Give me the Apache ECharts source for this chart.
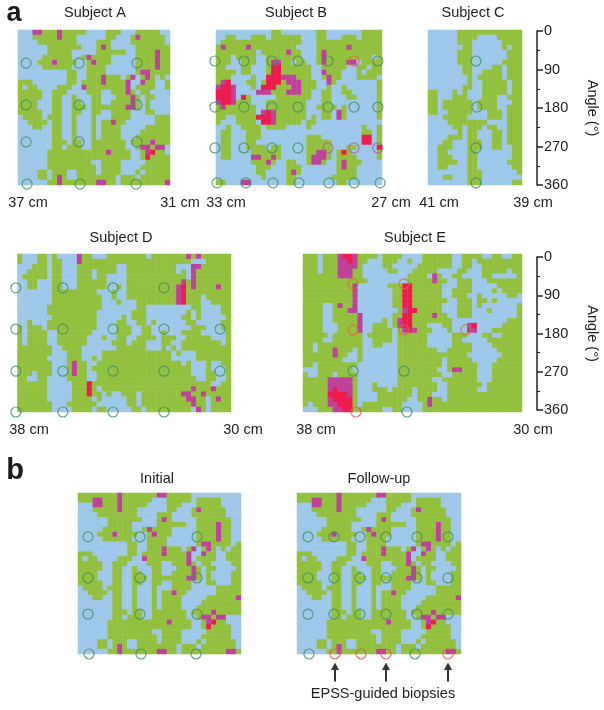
<!DOCTYPE html>
<html><head><meta charset="utf-8">
<style>html,body{margin:0;padding:0;background:#fff}#c{width:604px;height:710px}</style>
<script src="https://cdn.jsdelivr.net/npm/echarts@6/dist/echarts.min.js"></script>
</head><body><div id="c"></div>
<script>
// Map classes: . low (blue), g normal (green), m raised (magenta), r high (red)
var initialRows = [
"ggggggggmgggggggmmggggg..........",
"gggmmgggmgggggg...ggggg.ggggg....",
"...mmgggmggggg....ggg...ggggg....",
"...gggggmggg......gg...gmggggg...",
"....gggggggg....ggg....ggggggg...",
"......ggggggg...gmg.....ggggggg..",
"......ggggg.....gggggg..ggggmgg..",
".....gggggg..gmgggg.....ggggmgg..",
"....gggmgggg..gmggg.....ggggmgg..",
".....gggggg...gggg......ggggmgg..",
"..........gg..gggg......gmmgggg.g",
"..........gg..gggmggg.gm.gmg.g.gg",
"ggg.......gg.ggggmggggm..mgg..ggg",
"g.gg....ggg..mggggggggm.gggg..ggg",
"ggggg..ggg....ggg..gggmg.gg....gg",
"ggggg..gg..g...gg...gggmg.gg....g",
"gggg...gg..gg..gg..ggggmg.g....gg",
"gggg...gg..ggg.gggggggmmg.g....gg",
"ggggg..gg..gg..gg..gggg...gg...gg",
".gggg.ggg..g...g...gggg.....ggggg",
"..gggg.gg..g...g.ggmgg......ggggg",
"...gg..gg..g...g.gggg.....ggggggm",
".......gg..g...g.gggg....gggggggg",
".......gg..g...g.gggg...ggggggggg",
".......ggg.gg..ggggggg.ggggmggggg",
".......gg.ggg..ggggggg..gmmgmm...",
"......ggggggggggggmgggg..gmrgg...",
"......ggggggggggggggggg..grgggg..",
"......ggggggggg..gggg.....ggggg..",
"......gggggggggg.gggg....gggggg..",
"....gg.ggg..gggg.gggg...g.gggggg.",
"....gg.gmg..gggggggg.ggg.ggggggg.",
"......ggmgggggggmmgg.gggggggggmmg"
];
var followUpRows = initialRows;
var subjectARows = initialRows.slice(2).map(function(r){return r.slice(0,31);});
var subjectBRows = [
"...........gg.......gg.......gggg",
"..gg...ggg.gggggg...gg...ggg.gggg",
".gggggggggggggggg...ggggggggggggg",
"gmggggmggggggggg....ggggggmgggggg",
"gggggggg.gggggmgg...gmggggggggggg",
"ggg.gggg..ggggggg...gmggggggggg.g",
"ggg..ggg..gmmgg.gg..gmggggmm.gggg",
"gg...gg...grrgggggg..ggggg..gg.gg",
"gggg.gg...grrgggggg..mggg...g.ggg",
"ggg....g..rrrmmmggg..gmgg...gggg.",
"gmr...gg.grrrgmmmggg..mg........g",
"mrrm...g.rrrgggmmggg..g..g......g",
"rrrm....mmmgggmmmgg..gg..gg.....g",
"rrrm.rg.....ggggggg..gg...gg....g",
"mrrmggg...gggggggg...gg.........g",
"gmgggggg..gggggggg..gggg.g......g",
"gggggggg.mrmgggggg...gg.mg......g",
"gg..ggggrrrmgggggg.g.gg.mg......g",
"g...gggg.rrmggggg.gg.............",
"..g..gggg.gggg....g..........g..g",
".gg...ggg....................gg.g",
".gg...ggg.........ggg........rr.g",
".gg...gg..........ggggg......rr.g",
".gg...gggg.gg.....ggggg...gg....r",
".gg....gggggg.....ggmmg.grg.....g",
".gg....mmggmg.....gmmmg.gggg....g",
".......gggmg..gg..gmmg..gmggg....",
"........ggg...ggg.......gmgg.....",
"........gg....gmg.......gggg.....",
".........g....gg.......ggggg.....",
"gg...mm.......gg........gg......."
];
var subjectCRows = [
"......ggggggggggggg",
"......gggg....ggggg",
"......ggg......gggg",
".......gg......g.gg",
"......ggg.......ggg",
"......ggg.......ggg",
"......ggg......gggg",
".......gg....gg.ggg",
".......gg..gggg.ggg",
"........g.ggggg.ggg",
"........g..ggggg.gg",
".......gg..ggggg.gg",
"gg...g.g...ggggg.gg",
"gg...ggg...ggg..ggg",
"gg.gggggg.gggg...gg",
"gg.gggggg.gggg..ggg",
"gg..ggggg...ggg.ggg",
"...ggggg....ggg.ggg",
"....gggggggg....ggg",
".....gg.ggg.gg..ggg",
"......g.gg...gg.ggg",
"....ggg.gg...gg.ggg",
"...gg...ggg..gg.ggg",
"..ggg...ggg..gg..gg",
"..gg....gg.......gg",
"..ggg...gg.......gg",
"..gggg..gg......ggg",
"..gg....gg.......gg",
"........ggg.......g",
"...gg...ggg........",
"........ggg......gg"
];
var subjectDRows = [
"g...gg.g....mgg...gggggggg.gggggggmgmgggggg",
"g...gg.gg...mgggggggggggggggggggggg...ggggg",
"...ggg.gg...gggggggg..gggggggggg...mmgggggg",
"..gggg.gg...ggg.gggg..gggggggggg.g.mggggggg",
".ggggg.gg...ggg.gg....gggggggggggg.mggggggg",
"..gg...gg...gggggg....gggggggggggmgmggggggg",
"..gg...gg...gggggg..g.ggggggggggmrgmggggmgg",
".......ggggggggg...g..ggggggggggmrggggggggg",
".......gggggggggg..g..ggggggggggmrggg.ggggg",
".......gggggggggg...g...ggggggggmrggg..gggg",
"......ggggggggggg.......gg.........gg....gg",
"......gggggggggg.......ggg........g.g....gg",
".......ggggggggg.....g.ggg.......gg.g.....g",
"..g...gggggggggg....gg..gg.g......gg.....gg",
"g.ggg.gggggggggg....ggg..gg........ggg...gg",
"g.gggg..ggggggg.....ggg..gg..g...gggg.....g",
"g.gggg..gggggg...g..gg..gggg.ggg..ggggg...g",
"g.gggg..gggggg.....ggg.ggg...gg..gggggggg.g",
"ggggggg..gggg.......gggggg...g.g.gggggggggg",
"ggggggg...ggg....gggggggggggggg.g...ggggggg",
"gggggg....ggg..g.gggggggggggggg.....ggggggg",
"ggggggg...gmgg..ggggggggggggggggg.g...g..gg",
"ggggggg...gmgg.gggggggggggggggggggg...g...g",
"ggg.ggg...gmgg..ggggggggggggggggggg...gg..g",
"gg..gg....gggg..gggggggggggggggggggg..gg..g",
"gggggg.....gggrgggggggggggggggggggggggg..gg",
"gggggg.....gggrg.ggggggggggggggggggmgggmggg",
"gggggg.....gggrgg.g..ggg.ggggggggmmggmggggg",
"gggggg.....gggg.g.....gg.gggggggggmmgg.gmgg",
"ggggggg...gggggg......gg.ggggggggggmgg.gggg",
"ggggggg....gggg.gg.....gg.ggggggggg.mg.gggg"
];
var subjectERows = [
"ggg.gggmrrmgggg.gggg....gggggg..gggg..gg..gg",
"ggg.gggmmrmgg...ggg..g..gggggg..gg.ggggggggg",
"ggg.gggmmmmg....gg.....ggggggg..gg..gggggggg",
"ggg.gggmmmgg.....gg...ggggg....gg...ggggg.gg",
"gggggggmmmgg.........gggg.mg..gg....gg.....g",
"ggggggggggggg........gggggmgg..ggg...ggggggg",
"ggggggggggm......gggrrgggggg...ggg.....ggggg",
"ggggggggggm.......ggrrgggggg..gggg....g.gggg",
"ggggggggggm.......ggrrgggggg..ggg..g.....gg.",
"ggggggggggm.......ggrrggggggg..ggg.gg.g.....",
"gggg..gmggm.......ggrrgggggg...ggg.g.......g",
"gggg..gggmm........gmrrggggg...ggg...g.....g",
"gggg..gggggm......ggrrggggmgg..ggg.........g",
"gggg..gggggm....g.gmrrgggggggg...........ggg",
"gggg...ggggm..ggg.gmrrggg...gg...mr.....gggg",
"gggg...ggggm..gggg.gmrmggg...g...mm...gggggg",
"ggggg.gggggg.ggggg.gggggg.....ggg...gg..gggg",
"gggg..gggggg..gggg.gggggg.....gg.....ggggggg",
"gg.ggggggggg..gg...gggggg.....gggg....gggggg",
"gg.gggmggg.g.......gggggggg..ggggg.....ggggg",
"ggggggmgg..g.......gggggggggggggg.......gggg",
"gggggggg...g.......ggggggggg.ggggg.....ggggg",
"gg.gggggggg........ggggggggg.gggggg...gggggg",
"...ggggggg.........gggggggg..gmmggg...gggggg",
"g..ggg.gggg........ggggggggg..ggggg...gggggg",
"gggggmmmmmg........ggggggg..ggggggg...gggggg",
"gggggmmmmmg...g....gggggggg..ggggggg.ggggggg",
"gggggmrmmmg...ggg.gggg.gggg..gggggg..ggggggg",
"gggggrrrrmg....ggggggg.ggg...ggggggggggggggg",
"gggggmrrrrg....gggggg..ggmgg.ggggggggggggggg",
"g.gggmmrrrg.gggggggg....gmgggggggggggggggggg",
"...gggmmrrgggggg..gg....gggggggggggggggggggg"
];
var colorClasses = {".":"#9DC8EA","g":"#92C13E","m":"#C0409C","r":"#EE1C4E"};
var circleGreen="#3f8f5c", circleOrange="#e0683a", circlePurple="#a85fa8", circleRed="#e6504f";
var subjectACircles=[[36.68,77],[34.59,77],[32.30,77],[36.68,174],[34.59,174],[32.30,174],[36.68,260],[34.59,260],[32.30,260],[36.64,358],[34.55,358],[32.34,358]];
var subjectBCircles=[[33.04,72],[31.99,72],[30.98,72],[30.04,72],[28.95,72],[28.01,72,circleOrange],[27.15,72],
[33.04,179],[31.99,179],[30.98,179],[30.04,179],[28.95,179],[28.01,179],[27.15,179],
[33.04,274],[31.99,274],[30.98,274],[30.04,274],[28.95,274,circlePurple],[28.01,274,circlePurple],[27.15,274,circlePurple],
[32.96,355],[31.92,355],[30.94,355],[30.0,355],[28.92,355],[28.01,355],[27.07,355]];
var subjectCCircles=[[39.98,72],[39.96,179],[39.98,274],[39.98,355]];
var subjectDCircles=[[38.06,77],[36.30,77],[34.42,77],[32.51,77],[38.06,171],[36.30,171],[34.42,171],[32.51,171],[30.41,171],
[38.06,267],[36.30,267],[34.42,267],[32.51,267],[30.41,267],[38.06,360],[36.30,360],[34.42,360],[32.51,360]];
var subjectECircles=[[36.17,68,circleOrange],[34.31,68,circleOrange],[36.17,173,circleOrange],[34.31,173,circleOrange],[32.05,173,circleOrange],
[36.17,267],[34.31,267],[36.07,360,circleRed],[34.20,360]];
var initialCircles=[[36.68,98],[34.6,98],[32.32,98],[36.68,190],[34.6,190],[32.32,190],[36.68,271],[34.6,271],[32.32,271],[36.64,360],[34.56,360],[32.36,360]];
var followUpCircles=[[36.64,98],[35.6,98],[34.56,98],[33.52,98],[32.28,98],[31.04,98],[36.64,190],[35.6,190],[34.56,190],[33.52,190],[32.28,190],[31.04,190],
[36.64,271],[35.6,271],[34.56,271],[33.52,271],[32.28,271],[31.04,271],
[36.6,360],[35.56,360,circleRed],[34.52,360,circleRed],[33.52,360,circleRed],[32.36,360],[31.04,360,circleRed]];
var biopsySites=[35.56,33.52,31.04];
var angleTicks=[0,90,180,270,360];

var panels=[
{rows:subjectARows,circles:subjectACircles,xr:[37,31],box:[18,30,152,155],w:31},
{rows:subjectBRows,circles:subjectBCircles,xr:[33,27],box:[216,30,166,155],w:33},
{rows:subjectCRows,circles:subjectCCircles,xr:[41,39],box:[428,30,94,155],w:19},
{rows:subjectDRows,circles:subjectDCircles,xr:[38,30],box:[17.5,254,213.5,158],w:43},
{rows:subjectERows,circles:subjectECircles,xr:[38,30],box:[303,254,219,158],w:44},
{rows:initialRows,circles:initialCircles,xr:[37.08,30.56],box:[78,493,163,161],w:33},
{rows:followUpRows,circles:followUpCircles,xr:[37.08,30.52],box:[297,493,164,161],w:33,arrows:true}
];
var grid=[],xAxis=[],yAxis=[],series=[];
panels.forEach(function(p){
  var h=p.rows.length, w=p.w;
  var rect={left:p.box[0],top:p.box[1],width:p.box[2],height:p.box[3]};
  var gi=grid.length;
  grid.push(rect); grid.push(rect);
  var cx=[],cy=[],i,j; for(i=0;i<w;i++)cx.push(i); for(j=0;j<h;j++)cy.push(j);
  xAxis.push({gridIndex:gi,type:'category',data:cx,show:false});
  yAxis.push({gridIndex:gi,type:'category',data:cy,inverse:true,show:false});
  xAxis.push({gridIndex:gi+1,type:'value',min:p.xr[1],max:p.xr[0],inverse:true,show:false});
  yAxis.push({gridIndex:gi+1,type:'value',min:0,max:360,inverse:true,show:false});
  var d=[];
  p.rows.forEach(function(r,y){
    for(var x=0;x<w;x++){
      var ch=r[x]||r[r.length-1];
      d.push({value:[x,y,1],itemStyle:{color:colorClasses[ch]}});
    }
  });
  series.push({type:'heatmap',xAxisIndex:gi,yAxisIndex:gi,data:d,progressive:0,silent:true,z:1,animation:false});
  series.push({type:'scatter',xAxisIndex:gi+1,yAxisIndex:gi+1,clip:false,z:3,symbol:'circle',symbolSize:10,silent:true,
    data:p.circles.map(function(c){return {value:[c[0],c[1]],itemStyle:{color:'rgba(0,0,0,0)',borderColor:c[2]||circleGreen,borderWidth:1.2}};})});
  if(p.arrows){
    series.push({type:'scatter',xAxisIndex:gi+1,yAxisIndex:gi+1,clip:false,z:3,silent:true,
      symbol:'path://M4 0L8 8H5V20H3V8H0Z',symbolSize:[8,19],symbolOffset:[0,18],
      itemStyle:{color:'#000'},
      data:biopsySites.map(function(x){return [x,360];})});
  }
});
function angleAxis(top,height){
  var gi=grid.length;
  grid.push({left:537,top:top,width:1,height:height});
  xAxis.push({gridIndex:gi,type:'value',show:false});
  yAxis.push({gridIndex:gi,type:'value',position:'right',min:angleTicks[0],max:angleTicks[4],interval:90,inverse:true,
    name:'Angle (°)',nameLocation:'middle',nameRotate:-90,nameGap:46,
    nameTextStyle:{fontFamily:'Liberation Sans',fontSize:14.5,color:'#222'},
    axisLine:{show:true,lineStyle:{color:'#222',width:1.5}},
    axisTick:{show:true,length:6,lineStyle:{color:'#222',width:1.5}},
    minorTick:{show:true,splitNumber:2,length:3,lineStyle:{color:'#222',width:1.2}},
    splitLine:{show:false},
    axisLabel:{margin:6,fontFamily:'Liberation Sans',fontSize:14.5,color:'#222'}});
  series.push({type:'scatter',xAxisIndex:gi,yAxisIndex:gi,data:[],silent:true});
}
angleAxis(31,154); angleAxis(257,153);

function txt(s,x,y,extra){
  var st={text:s,x:x,y:y,textAlign:'center',textVerticalAlign:'middle',fontFamily:'Liberation Sans',fontSize:14.5,fill:'#222'};
  for(var k in extra) st[k]=extra[k];
  return {type:'text',style:st,silent:true};
}
var labels=[
["Subject A",95,13],["Subject B",296,13],["Subject C",473,13],["Subject D",121,238],["Subject E",415,238],
["Initial",157,479],["Follow-up",379,479],
["37 cm",28,203],["31 cm",180,203],["33 cm",226,203],["27 cm",391,203],["41 cm",439,203],["39 cm",533,203],
["38 cm",29,430],["30 cm",243,430],["38 cm",316,430],["30 cm",533,430],
["EPSS-guided biopsies",383,694]
];
var graphic=labels.map(function(l){return txt(l[0],l[1],l[2]);});
graphic.push(txt("a",14,14,{fontSize:27,fontWeight:'bold',fill:'#1a1a1a'}));
graphic.push(txt("b",15,471,{fontSize:29,fontWeight:'bold',fill:'#1a1a1a'}));

var chart=echarts.init(document.getElementById('c'),null,{renderer:'canvas'});
chart.setOption({animation:false,backgroundColor:'#fff',tooltip:{show:false},grid:grid,xAxis:xAxis,yAxis:yAxis,series:series,graphic:graphic});
</script></body></html>
